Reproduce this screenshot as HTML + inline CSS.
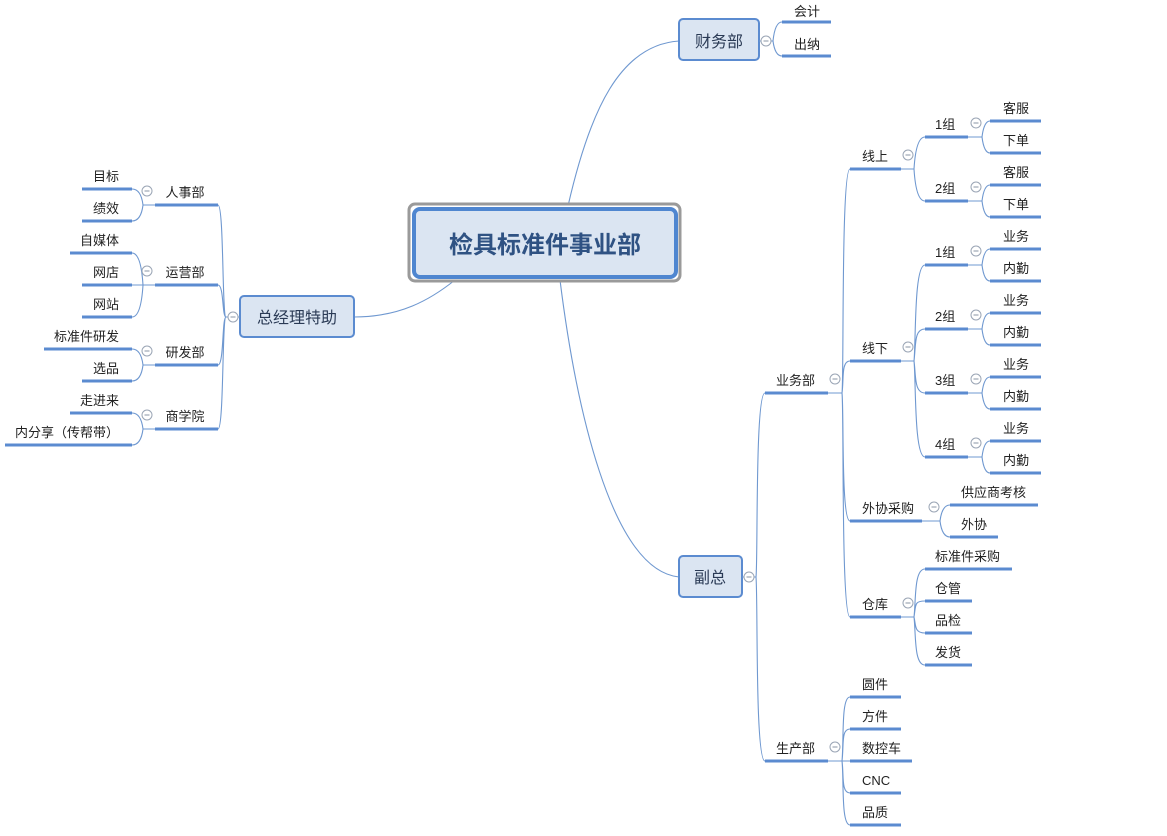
<!DOCTYPE html>
<html><head><meta charset="utf-8"><style>
html,body{margin:0;padding:0;background:#fff;}
svg{display:block;font-family:"Liberation Sans","Microsoft YaHei","Noto Sans CJK SC",sans-serif;}
.u{stroke:#5b8bd0;stroke-width:3;fill:none}
.c{stroke:#6f98d0;stroke-width:1.1;fill:none}
text{font-size:13px;fill:#222}
.b{fill:#dbe5f2;stroke:#5b8bd0;stroke-width:2}
</style></head><body>
<svg width="1167" height="836" viewBox="0 0 1167 836">
<defs>
<g id="m"><circle r="5" cx="0" cy="0" fill="#ffffff" stroke="#9aa5b5" stroke-width="1"/><line x1="-2.5" y1="0" x2="2.5" y2="0" stroke="#8a95a5" stroke-width="1"/></g>
</defs>
<!-- main connectors -->
<path class="c" d="M568 206 C590 110 620 45 679 41"/>
<path class="c" d="M560 280 C575 400 610 570 679 577"/>
<path class="c" d="M455 280 C430 300 400 317 354 317"/>

<!-- center -->
<rect x="409" y="204" width="271" height="77" rx="6" fill="#fff" stroke="#9a9a9a" stroke-width="3"/>
<rect x="414" y="209" width="262" height="68" rx="6" fill="#dbe5f2" stroke="#4f86d0" stroke-width="4"/>
<text x="545" y="253" text-anchor="middle" style="font-size:24px;font-weight:bold;fill:#2f5283">检具标准件事业部</text>

<!-- 财务部 -->
<rect class="b" x="679" y="19" width="80" height="41" rx="4"/>
<text x="719" y="47" text-anchor="middle" style="font-size:16px;fill:#2a3a55">财务部</text>
<path class="c" d="M759 41 L773 41 Q775 22 782 22 M773 41 Q775 56 782 56"/>
<path class="u" d="M782 22 H831 M782 56 H831"/>
<text x="794" y="16">会计</text><text x="794" y="49">出纳</text>
<use href="#m" x="766" y="41"/>

<!-- 总经理特助 -->
<rect class="b" x="240" y="296" width="114" height="41" rx="4"/>
<text x="297" y="323" text-anchor="middle" style="font-size:16px;fill:#2a3a55">总经理特助</text>
<path class="c" d="M240 317 L226 317 M226 317 C222 317 224 205 218 205 M226 317 C222 317 224 285 218 285 M226 317 C222 317 224 365 218 365 M226 317 C222 317 224 429 218 429"/>
<use href="#m" x="233" y="317"/>
<path class="u" d="M155 205 H218 M155 285 H218 M155 365 H218 M155 429 H218"/>
<text x="185" y="197" text-anchor="middle">人事部</text>
<text x="185" y="277" text-anchor="middle">运营部</text>
<text x="185" y="357" text-anchor="middle">研发部</text>
<text x="185" y="421" text-anchor="middle">商学院</text>
<path class="c" d="M155 205 H143 M143 205 Q141 189 132 189 M143 205 Q141 221 132 221
M155 285 H143 M143 285 Q141 253 132 253 M143 285 L132 285 M143 285 Q141 317 132 317
M155 365 H143 M143 365 Q141 349 132 349 M143 365 Q141 381 132 381
M155 429 H143 M143 429 Q141 413 132 413 M143 429 Q141 445 132 445"/>
<use href="#m" x="147" y="191"/><use href="#m" x="147" y="271"/><use href="#m" x="147" y="351"/><use href="#m" x="147" y="415"/>
<path class="u" d="M82 189 H132 M82 221 H132 M70 253 H132 M82 285 H132 M82 317 H132 M44 349 H132 M82 381 H132 M70 413 H132 M5 445 H132"/>
<g text-anchor="end">
<text x="119" y="181">目标</text><text x="119" y="213">绩效</text>
<text x="119" y="245">自媒体</text><text x="119" y="277">网店</text><text x="119" y="309">网站</text>
<text x="119" y="341">标准件研发</text><text x="119" y="373">选品</text>
<text x="119" y="405">走进来</text><text x="119" y="437">内分享（传帮带）</text>
</g>

<!-- 副总 -->
<rect class="b" x="679" y="556" width="63" height="41" rx="4"/>
<text x="710" y="583" text-anchor="middle" style="font-size:16px;fill:#2a3a55">副总</text>
<path class="c" d="M742 577 H756 M756 577 C758 560 755 393 765 393 M756 577 C758 600 755 761 765 761"/>
<use href="#m" x="749" y="577"/>
<path class="u" d="M765 393 H828 M765 761 H828"/>
<text x="776" y="385">业务部</text><text x="776" y="753">生产部</text>

<!-- 业务部 children -->
<path class="c" d="M828 393 H842 M842 393 C844 380 841 169 850 169 M842 393 C844 380 841 361 850 361 M842 393 C844 410 841 521 850 521 M842 393 C844 410 841 617 850 617"/>
<use href="#m" x="835" y="379"/><use href="#m" x="835" y="747"/>
<path class="u" d="M850 169 H901 M850 361 H901 M850 521 H922 M850 617 H901"/>
<text x="862" y="161">线上</text><text x="862" y="353">线下</text><text x="862" y="513">外协采购</text><text x="862" y="609">仓库</text>
<use href="#m" x="908" y="155"/><use href="#m" x="908" y="347"/><use href="#m" x="934" y="507"/><use href="#m" x="908" y="603"/>

<!-- 线上 -->
<path class="c" d="M901 169 H914 M914 169 Q916 137 925 137 M914 169 Q916 201 925 201"/>
<path class="u" d="M925 137 H968 M925 201 H968"/>
<text x="935" y="129">1组</text><text x="935" y="193">2组</text>
<use href="#m" x="976" y="123"/><use href="#m" x="976" y="187"/>
<path class="c" d="M968 137 H982 M982 137 Q984 121 990 121 M982 137 Q984 153 990 153 M968 201 H982 M982 201 Q984 185 990 185 M982 201 Q984 217 990 217"/>
<path class="u" d="M990 121 H1041 M990 153 H1041 M990 185 H1041 M990 217 H1041"/>
<text x="1003" y="113">客服</text><text x="1003" y="145">下单</text><text x="1003" y="177">客服</text><text x="1003" y="209">下单</text>

<!-- 线下 -->
<path class="c" d="M901 361 H914 M914 361 C916 340 914 265 925 265 M914 361 C916 345 914 329 925 329 M914 361 C916 375 914 393 925 393 M914 361 C916 380 914 457 925 457"/>
<path class="u" d="M925 265 H968 M925 329 H968 M925 393 H968 M925 457 H968"/>
<text x="935" y="257">1组</text><text x="935" y="321">2组</text><text x="935" y="385">3组</text><text x="935" y="449">4组</text>
<use href="#m" x="976" y="251"/><use href="#m" x="976" y="315"/><use href="#m" x="976" y="379"/><use href="#m" x="976" y="443"/>
<path class="c" d="M968 265 H982 M982 265 Q984 249 990 249 M982 265 Q984 281 990 281
M968 329 H982 M982 329 Q984 313 990 313 M982 329 Q984 345 990 345
M968 393 H982 M982 393 Q984 377 990 377 M982 393 Q984 409 990 409
M968 457 H982 M982 457 Q984 441 990 441 M982 457 Q984 473 990 473"/>
<path class="u" d="M990 249 H1041 M990 281 H1041 M990 313 H1041 M990 345 H1041 M990 377 H1041 M990 409 H1041 M990 441 H1041 M990 473 H1041"/>
<text x="1003" y="241">业务</text><text x="1003" y="273">内勤</text>
<text x="1003" y="305">业务</text><text x="1003" y="337">内勤</text>
<text x="1003" y="369">业务</text><text x="1003" y="401">内勤</text>
<text x="1003" y="433">业务</text><text x="1003" y="465">内勤</text>

<!-- 外协采购 -->
<path class="c" d="M922 521 H940 M940 521 Q942 505 950 505 M940 521 Q942 537 950 537"/>
<path class="u" d="M950 505 H1038 M950 537 H998"/>
<text x="961" y="497">供应商考核</text><text x="961" y="529">外协</text>

<!-- 仓库 -->
<path class="c" d="M901 617 H914 M914 617 C916 600 914 569 925 569 M914 617 C916 605 914 601 925 601 M914 617 C916 625 914 633 925 633 M914 617 C916 635 914 665 925 665"/>
<path class="u" d="M925 569 H1012 M925 601 H972 M925 633 H972 M925 665 H972"/>
<text x="935" y="561">标准件采购</text><text x="935" y="593">仓管</text><text x="935" y="625">品检</text><text x="935" y="657">发货</text>

<!-- 生产部 -->
<path class="c" d="M828 761 H842 M842 761 C844 740 841 697 850 697 M842 761 C844 745 841 729 850 729 M842 761 L850 761 M842 761 C844 775 841 793 850 793 M842 761 C844 780 841 825 850 825"/>
<path class="u" d="M850 697 H901 M850 729 H901 M850 761 H912 M850 793 H901 M850 825 H901"/>
<text x="862" y="689">圆件</text><text x="862" y="721">方件</text><text x="862" y="753">数控车</text><text x="862" y="785">CNC</text><text x="862" y="817">品质</text>
</svg>
</body></html>
